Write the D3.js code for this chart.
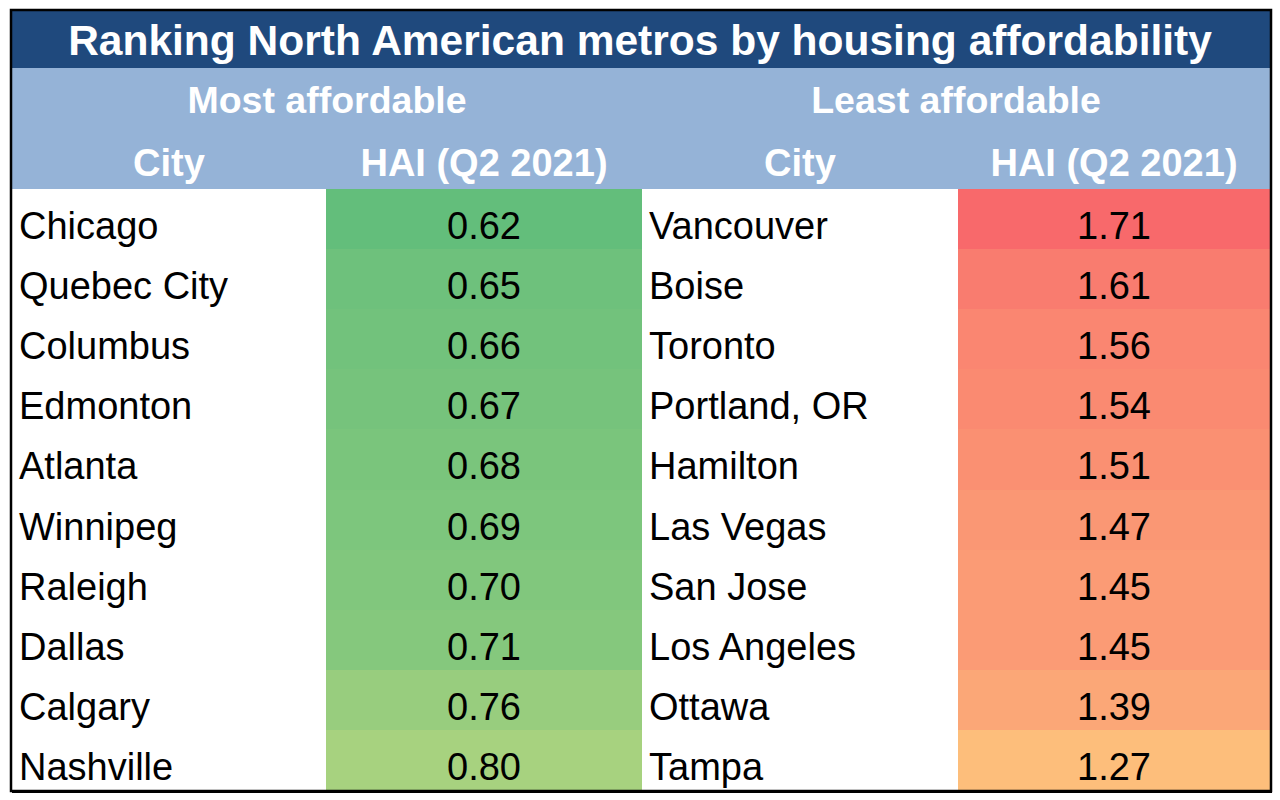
<!DOCTYPE html>
<html>
<head>
<meta charset="utf-8">
<script src="https://cdn.jsdelivr.net/npm/d3@7"></script>
<style>
  html, body { margin: 0; padding: 0; background: #ffffff; }
  svg { display: block; }
  text { font-family: "Liberation Sans", Arial, sans-serif; }
</style>
</head>
<body>
<svg id="chart" width="1280" height="800"></svg>
<script>
const title = "Ranking North American metros by housing affordability";
const groupLabels = ["Most affordable", "Least affordable"];
const columnLabels = ["City", "HAI (Q2 2021)", "City", "HAI (Q2 2021)"];
const affordableCities = ["Chicago", "Quebec City", "Columbus", "Edmonton", "Atlanta", "Winnipeg", "Raleigh", "Dallas", "Calgary", "Nashville"];
const affordableHAI = [0.62, 0.65, 0.66, 0.67, 0.68, 0.69, 0.70, 0.71, 0.76, 0.80];
const unaffordableCities = ["Vancouver", "Boise", "Toronto", "Portland, OR", "Hamilton", "Las Vegas", "San Jose", "Los Angeles", "Ottawa", "Tampa"];
const unaffordableHAI = [1.71, 1.61, 1.56, 1.54, 1.51, 1.47, 1.45, 1.45, 1.39, 1.27];

const svg = d3.select("#chart");
const L = 12, R = 1270, T = 10, B = 790;
const titleBottom = 68, headerBottom = 189;
const colEdges = [L, 326, 642, 958, R];

// colour scale like a 3-colour conditional format
const all = affordableHAI.concat(unaffordableHAI);
const color = d3.scaleLinear()
  .domain([d3.min(all), d3.median(all), d3.max(all)])
  .range(["#63BE7B", "#FFEB84", "#F8696B"])
  .interpolate(d3.interpolateRgb);

const rowIdx = d3.range(affordableCities.length);
const y = d3.scaleBand().domain(rowIdx).range([headerBottom, B]);

// title band
svg.append("rect").attr("x", L).attr("y", T).attr("width", R - L).attr("height", titleBottom - T)
  .attr("fill", "#1F497D").attr("shape-rendering", "crispEdges");
svg.append("text").attr("x", (L + R) / 2 - 1).attr("y", 55).attr("text-anchor", "middle")
  .attr("fill", "#ffffff").attr("font-weight", "bold").attr("font-size", 42.5).text(title);

// header band
svg.append("rect").attr("x", L).attr("y", titleBottom).attr("width", R - L).attr("height", headerBottom - titleBottom)
  .attr("fill", "#95B3D7").attr("shape-rendering", "crispEdges");
groupLabels.forEach((g, i) => {
  const cx = (colEdges[i * 2] + colEdges[i * 2 + 2]) / 2;
  svg.append("text").attr("x", cx).attr("y", 113).attr("text-anchor", "middle")
    .attr("fill", "#ffffff").attr("font-weight", "bold").attr("font-size", 37.5).text(g);
});
columnLabels.forEach((c, i) => {
  const cx = (colEdges[i] + colEdges[i + 1]) / 2;
  svg.append("text").attr("x", cx).attr("y", 176).attr("text-anchor", "middle")
    .attr("fill", "#ffffff").attr("font-weight", "bold").attr("font-size", 38).text(c);
});

// body
const groups = [
  { cities: affordableCities, vals: affordableHAI, c0: 0 },
  { cities: unaffordableCities, vals: unaffordableHAI, c0: 2 }
];
groups.forEach(g => {
  const cellX = colEdges[g.c0 + 1], cellW = colEdges[g.c0 + 2] - colEdges[g.c0 + 1];
  svg.selectAll(null).data(rowIdx).enter().append("rect")
    .attr("x", cellX).attr("y", i => y(i)).attr("width", cellW).attr("height", y.bandwidth() + 0.5)
    .attr("shape-rendering", "crispEdges")
    .attr("fill", i => color(g.vals[i]));
  svg.selectAll(null).data(rowIdx).enter().append("text")
    .attr("x", colEdges[g.c0] + 7).attr("y", i => y(i) + 50)
    .attr("font-size", 38).attr("fill", "#000").text(i => g.cities[i]);
  svg.selectAll(null).data(rowIdx).enter().append("text")
    .attr("x", cellX + cellW / 2).attr("y", i => y(i) + 50).attr("text-anchor", "middle")
    .attr("font-size", 38).attr("fill", "#000").text(i => d3.format(".2f")(g.vals[i]));
});

// outer border
svg.append("rect").attr("x", L - 1).attr("y", T).attr("width", R - L + 2).attr("height", B - T + 1)
  .attr("fill", "none").attr("stroke", "#000").attr("stroke-width", 2.5);
svg.append("line").attr("x1", L).attr("x2", R + 2).attr("y1", B + 2).attr("y2", B + 2)
  .attr("stroke", "#000").attr("stroke-width", 2);
</script>
</body>
</html>
